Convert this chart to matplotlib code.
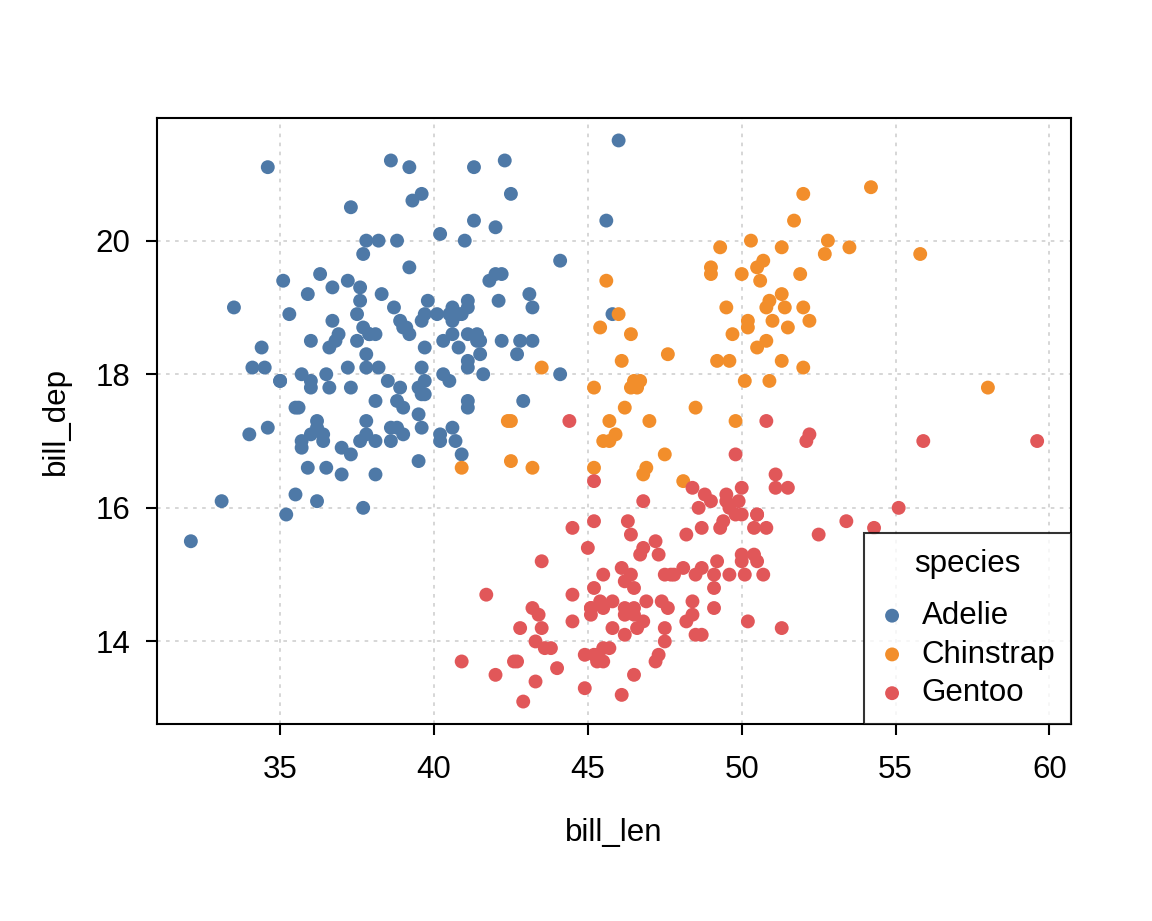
import matplotlib
matplotlib.use("Agg")
import matplotlib.pyplot as plt
import numpy as np

# Palmer penguins: bill length / depth (mm), by species
adelie_len = [39.1, 39.5, 40.3, 36.7, 39.3, 38.9, 39.2, 34.1, 42.0, 37.8, 37.8, 41.1, 38.6, 34.6, 36.6,
              38.7, 42.5, 34.4, 46.0, 37.8, 37.7, 35.9, 38.2, 38.8, 35.3, 40.6, 40.5, 37.9, 40.5, 39.5,
              37.2, 39.5, 40.9, 36.4, 39.2, 38.8, 42.2, 37.6, 39.8, 36.5, 40.8, 36.0, 44.1, 37.0, 39.6,
              41.1, 37.5, 36.0, 42.3, 39.6, 40.1, 35.0, 42.0, 34.5, 41.4, 39.0, 40.6, 36.5, 37.6, 35.7,
              41.3, 37.6, 41.1, 36.4, 41.6, 35.5, 41.1, 35.9, 41.8, 33.5, 39.7, 39.6, 45.8, 35.5, 42.8,
              40.9, 37.2, 36.2, 42.1, 34.6, 42.9, 36.7, 35.1, 37.3, 41.3, 36.3, 36.9, 38.3, 38.9, 35.7,
              41.1, 34.0, 39.6, 36.2, 40.8, 38.1, 40.3, 33.1, 43.2, 35.0, 41.0, 37.7, 37.8, 37.9, 39.7,
              38.6, 38.2, 38.1, 43.2, 38.1, 45.6, 39.7, 42.2, 39.6, 42.7, 38.6, 37.3, 35.7, 41.1, 36.2,
              37.7, 40.2, 41.4, 35.2, 40.6, 38.8, 41.5, 39.0, 44.1, 38.5, 43.1, 36.8, 37.5, 38.1, 41.1,
              35.6, 40.2, 37.0, 39.7, 40.2, 40.6, 32.1, 40.7, 37.3, 39.0, 39.2, 36.6, 36.0, 37.8, 36.0,
              41.5]
adelie_dep = [18.7, 17.4, 18.0, 19.3, 20.6, 17.8, 19.6, 18.1, 20.2, 17.1, 17.3, 17.6, 21.2, 21.1, 17.8,
              19.0, 20.7, 18.4, 21.5, 18.3, 18.7, 19.2, 18.1, 17.2, 18.9, 18.6, 17.9, 18.6, 18.9, 16.7,
              18.1, 17.8, 18.9, 17.0, 21.1, 20.0, 18.5, 19.3, 19.1, 18.0, 18.4, 18.5, 19.7, 16.9, 18.8,
              19.0, 18.9, 17.9, 21.2, 17.7, 18.9, 17.9, 19.5, 18.1, 18.6, 17.5, 18.8, 16.6, 19.1, 16.9,
              21.1, 17.0, 18.2, 17.1, 18.0, 16.2, 19.1, 16.6, 19.4, 19.0, 18.4, 17.2, 18.9, 17.5, 18.5,
              16.8, 19.4, 16.1, 19.1, 17.2, 17.6, 18.8, 19.4, 17.8, 20.3, 19.5, 18.6, 19.2, 18.8, 18.0,
              18.1, 17.1, 18.1, 17.3, 18.9, 18.6, 18.5, 16.1, 18.5, 17.9, 20.0, 16.0, 20.0, 18.6, 18.9,
              17.2, 20.0, 17.0, 19.0, 16.5, 20.3, 17.7, 19.5, 20.7, 18.3, 17.0, 20.5, 17.0, 18.6, 17.2,
              19.8, 17.0, 18.5, 15.9, 19.0, 17.6, 18.3, 17.1, 18.0, 17.9, 19.2, 18.5, 18.5, 17.6, 17.5,
              17.5, 20.1, 16.5, 17.9, 17.1, 17.2, 15.5, 17.0, 16.8, 18.7, 18.6, 18.4, 17.8, 18.1, 17.1,
              18.5]

chinstrap_len = [46.5, 50.0, 51.3, 45.4, 52.7, 45.2, 46.1, 51.3, 46.0, 51.3, 46.6, 51.7, 47.0, 52.0,
                 45.9, 50.5, 50.3, 58.0, 46.4, 49.2, 42.4, 48.5, 43.2, 50.6, 46.7, 52.0, 50.5, 49.5,
                 46.4, 52.8, 40.9, 54.2, 42.5, 51.0, 49.7, 47.5, 47.6, 52.0, 46.9, 53.5, 49.0, 46.2,
                 50.9, 45.5, 50.9, 50.8, 50.1, 49.0, 51.5, 49.8, 48.1, 51.4, 45.7, 50.7, 42.5, 52.2,
                 45.2, 49.3, 50.2, 45.6, 51.9, 46.8, 45.7, 55.8, 43.5, 49.6, 50.8, 50.2]
chinstrap_dep = [17.9, 19.5, 19.2, 18.7, 19.8, 17.8, 18.2, 18.2, 18.9, 19.9, 17.8, 20.3, 17.3, 18.1,
                 17.1, 19.6, 20.0, 17.8, 18.6, 18.2, 17.3, 17.5, 16.6, 19.4, 17.9, 19.0, 18.4, 19.0,
                 17.8, 20.0, 16.6, 20.8, 16.7, 18.8, 18.6, 16.8, 18.3, 20.7, 16.6, 19.9, 19.5, 17.5,
                 19.1, 17.0, 17.9, 18.5, 17.9, 19.6, 18.7, 17.3, 16.4, 19.0, 17.3, 19.7, 17.3, 18.8,
                 16.6, 19.9, 18.8, 19.4, 19.5, 16.5, 17.0, 19.8, 18.1, 18.2, 19.0, 18.7]

gentoo_len = [46.1, 50.0, 48.7, 50.0, 47.6, 46.5, 45.4, 46.7, 43.3, 46.8, 40.9, 49.0, 45.5, 48.4, 45.8,
              49.3, 42.0, 49.2, 46.2, 48.7, 50.2, 45.1, 46.5, 46.3, 42.9, 46.1, 44.5, 47.8, 48.2, 50.0,
              47.3, 42.8, 45.1, 59.6, 49.1, 48.4, 42.6, 44.4, 44.0, 48.7, 42.7, 49.6, 45.3, 49.6, 50.5,
              43.6, 45.5, 50.5, 44.9, 45.2, 46.6, 48.5, 45.1, 50.1, 46.5, 45.0, 43.8, 45.5, 43.2, 50.4,
              45.3, 46.2, 45.7, 54.3, 45.8, 49.8, 46.2, 49.5, 43.5, 50.7, 47.7, 46.4, 48.2, 46.5, 46.4,
              48.6, 47.5, 51.1, 45.2, 45.2, 49.1, 52.5, 47.4, 50.0, 44.9, 50.8, 43.4, 51.3, 47.5, 52.1,
              47.5, 52.2, 45.5, 49.5, 44.5, 50.8, 49.4, 46.9, 48.4, 51.1, 48.5, 55.9, 47.2, 49.1, 47.3,
              46.8, 41.7, 53.4, 43.3, 48.1, 50.5, 49.8, 43.5, 51.5, 46.2, 55.1, 44.5, 48.8, 47.2, 46.8,
              50.4, 45.2, 49.9]
gentoo_dep = [13.2, 16.3, 14.1, 15.2, 14.5, 13.5, 14.6, 15.3, 13.4, 15.4, 13.7, 16.1, 13.7, 14.6, 14.6,
              15.7, 13.5, 15.2, 14.5, 15.1, 14.3, 14.5, 14.5, 15.8, 13.1, 15.1, 14.3, 15.0, 14.3, 15.3,
              15.3, 14.2, 14.5, 17.0, 14.8, 16.3, 13.7, 17.3, 13.6, 15.7, 13.7, 16.0, 13.7, 15.0, 15.9,
              13.9, 13.9, 15.9, 13.3, 15.8, 14.2, 14.1, 14.4, 15.0, 14.4, 15.4, 13.9, 15.0, 14.5, 15.3,
              13.8, 14.9, 13.9, 15.7, 14.2, 16.8, 14.4, 16.2, 14.2, 15.0, 15.0, 15.6, 15.6, 14.8, 15.0,
              16.0, 14.2, 16.3, 13.8, 16.4, 14.5, 15.6, 14.6, 15.9, 13.8, 17.3, 14.4, 14.2, 14.0, 17.0,
              15.0, 17.1, 14.5, 16.1, 14.7, 15.7, 15.8, 14.6, 14.4, 16.5, 15.0, 17.0, 15.5, 15.0, 13.8,
              16.1, 14.7, 15.8, 14.0, 15.1, 15.2, 15.9, 15.2, 16.3, 14.1, 16.0, 15.7, 16.2, 13.7, 14.3,
              15.7, 14.8, 16.1]

species = ["Adelie", "Chinstrap", "Gentoo"]
colors = ["#4E79A7", "#F28E2B", "#E15759"]

plt.rcParams['font.family'] = ['Liberation Sans', 'DejaVu Sans']
plt.rcParams['font.size'] = 22.5

fig = plt.figure(figsize=(11.52, 9.21), dpi=100)
ax = fig.add_axes([157 / 1152, 197 / 921, 914 / 1152, 606 / 921])

groups = [(adelie_len, adelie_dep), (chinstrap_len, chinstrap_dep), (gentoo_len, gentoo_dep)]
for name, (xs, ys), c in zip(species, groups, colors):
    ax.scatter(xs, ys, s=100, color=c, edgecolors='none', label=name, zorder=3)

all_x = np.concatenate([adelie_len, chinstrap_len, gentoo_len])
all_y = np.concatenate([adelie_dep, chinstrap_dep, gentoo_dep])
px = (all_x.max() - all_x.min()) * 0.04
py = (all_y.max() - all_y.min()) * 0.04
ax.set_xlim(all_x.min() - px, all_x.max() + px)
ax.set_ylim(all_y.min() - py, all_y.max() + py)

ax.set_xticks([35, 40, 45, 50, 55, 60])
ax.set_yticks([14, 16, 18, 20])
ax.grid(True, color='#d3d3d3', linestyle=(0, (2, 3)), linewidth=1.3, zorder=0)
ax.set_axisbelow(True)
for sp in ax.spines.values():
    sp.set_linewidth(1.5)
ax.tick_params(direction='out', length=8, width=1.5)
ax.tick_params(axis='x', pad=14)
ax.tick_params(axis='y', pad=11)

ax.set_xlabel("bill_len", labelpad=24)
ax.set_ylabel("bill_dep", labelpad=18)

leg = ax.legend(title="species", loc='lower right', bbox_to_anchor=(1, 0),
                borderaxespad=0, frameon=True, fancybox=False, handletextpad=0.55,
                handlelength=0.8, labelspacing=0.28, borderpad=0.5, markerscale=1.0)
leg.get_frame().set_edgecolor('black')
leg.get_frame().set_linewidth(1.5)
leg.get_title().set_fontsize(22.5)
leg._legend_box.sep = 16  # a bit more room under the title

fig.savefig("out.png", dpi=100)
